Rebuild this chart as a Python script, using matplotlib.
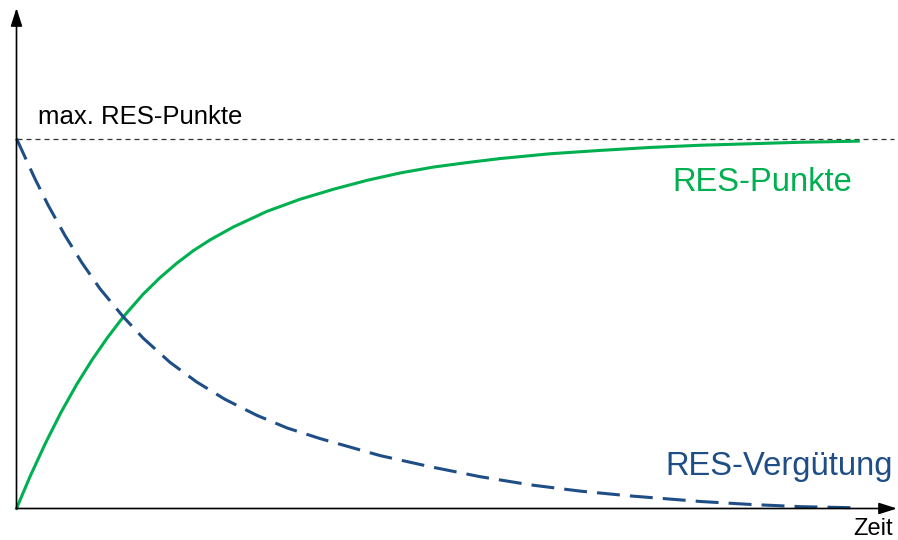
import matplotlib.pyplot as plt

plt.rcParams['font.family'] = ['Liberation Sans', 'DejaVu Sans']

# Values (time in % of the plotted span, points as share of max)
zeit_punkte = [0, 1.60, 3.45, 5.29, 7.14, 8.98, 10.84, 12.69, 15.07, 17.05, 19.04,
               21.01, 22.99, 25.76, 29.73, 33.69, 37.65, 41.62, 45.57, 49.53, 53.5,
               57.46, 63.40, 69.34, 75.28, 81.22, 87.16, 93.10, 100]
res_punkte = [0, 0.086, 0.177, 0.260, 0.335, 0.402, 0.463, 0.518, 0.580, 0.624, 0.663,
              0.697, 0.726, 0.761, 0.803, 0.836, 0.863, 0.887, 0.907, 0.923, 0.935,
              0.946, 0.959, 0.968, 0.976, 0.982, 0.986, 0.990, 0.993]

zeit_verg = [0, 2.20, 3.78, 5.76, 7.75, 9.92, 12.69, 15.07, 18.24, 21.41, 24.78,
             28.54, 32.11, 36.07, 43.20, 49.14, 55.08, 61.02, 66.96, 72.90, 81.22,
             87.16, 93.10, 99.44]
res_verguetung = [1.0, 0.891, 0.819, 0.738, 0.665, 0.594, 0.518, 0.460, 0.395, 0.342,
                  0.295, 0.252, 0.218, 0.189, 0.143, 0.113, 0.086, 0.064, 0.047,
                  0.034, 0.019, 0.011, 0.005, 0.002]

max_punkte = 1.0

green = '#00B050'
blue = '#1F4E86'

fig = plt.figure(figsize=(8.98, 5.4), dpi=100)
ax = fig.add_axes([16.5 / 898, 31.5 / 540, 880.5 / 898, 500.5 / 540])
ax.set_xlim(0, 104.6)
ax.set_ylim(0, 1.353)
ax.set_axis_off()

# axes with arrow heads
arrow = dict(arrowstyle='-|>,head_length=1.1,head_width=0.35', color='black',
             lw=1.2, shrinkA=0, shrinkB=0, mutation_scale=10)
ax.annotate('', xy=(1, 0), xytext=(0, 0), xycoords='axes fraction', arrowprops=arrow)
ax.annotate('', xy=(0, 1), xytext=(0, 0), xycoords='axes fraction', arrowprops=arrow)

# max line
ax.plot([0, 104.2], [max_punkte, max_punkte], color='#333333', lw=0.9,
        dashes=(4, 3.2), clip_on=False)

ax.plot(zeit_punkte, res_punkte, color=green, lw=2.2, clip_on=False,
        solid_joinstyle='round')
ax.plot(zeit_verg, res_verguetung, color=blue, lw=2.2, dashes=(7.5, 3.3),
        clip_on=False, dash_joinstyle='round')

ax.text(2.55, 1.039, 'max. RES-Punkte', fontsize=18.5, color='black', va='baseline')
ax.text(77.9, 0.858, 'RES-Punkte', fontsize=23.6, color=green, va='baseline')
ax.text(77.1, 0.0905, 'RES-Vergütung', fontsize=23.6, color=blue, va='baseline')
ax.text(99.4, -0.072, 'Zeit', fontsize=17, color='black', va='baseline')

fig.savefig('out.png', dpi=100)
